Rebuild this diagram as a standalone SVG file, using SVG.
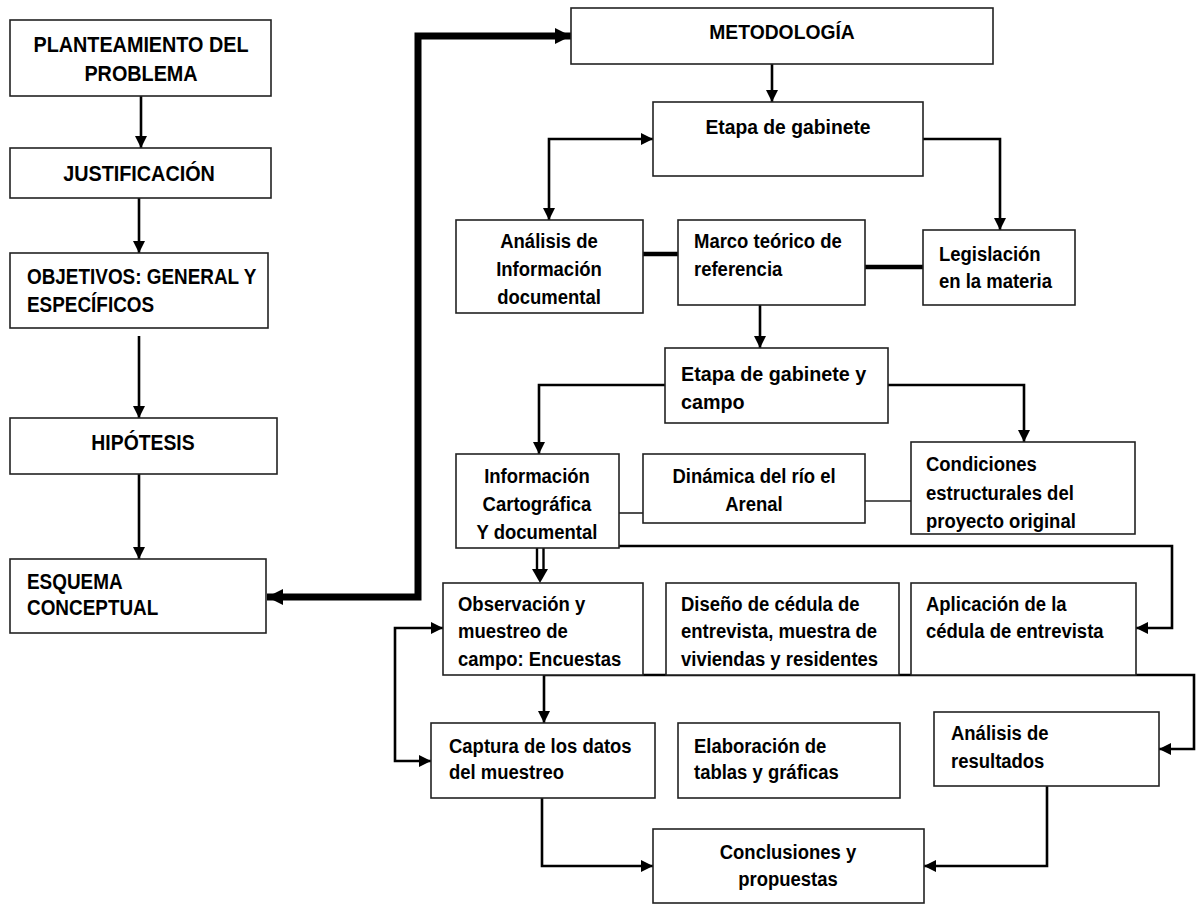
<svg xmlns="http://www.w3.org/2000/svg" width="1196" height="905" viewBox="0 0 1196 905">
<style>
  .box { fill: #ffffff; stroke: #222222; stroke-width: 1.6; }
  .t { font-family: "Liberation Sans", Arial, sans-serif; font-weight: bold; font-size: 21px; fill: #000000; }
  .tc { text-anchor: middle; }
  .cap { font-size: 22px; }
  .ln { fill: none; stroke: #000000; stroke-width: 2.6; }
  .thick { fill: none; stroke: #000000; stroke-width: 7; }
  .med { fill: none; stroke: #000000; stroke-width: 4.5; }
  .thin { fill: none; stroke: #222222; stroke-width: 1.6; }
  .dbl { fill: none; stroke: #000000; stroke-width: 2.4; }
</style>
<defs>
  <marker id="ah" viewBox="0 0 12 12" refX="12" refY="6" markerWidth="12" markerHeight="12" markerUnits="userSpaceOnUse" orient="auto-start-reverse">
    <path d="M0,0 L12,6 L0,12 z" fill="#000000"/>
  </marker>
  <marker id="ahb" viewBox="0 0 16 16" refX="16" refY="8" markerWidth="16" markerHeight="16" markerUnits="userSpaceOnUse" orient="auto-start-reverse">
    <path d="M0,0 L16,8 L0,16 z" fill="#000000"/>
  </marker>
</defs>
<rect x="0" y="0" width="1196" height="905" fill="#ffffff"/>

<g id="connectors">
  <line class="ln" x1="141" y1="96" x2="141" y2="148" marker-end="url(#ah)"/>
  <line class="ln" x1="139" y1="198" x2="139" y2="253" marker-end="url(#ah)"/>
  <line class="ln" x1="139" y1="336" x2="139" y2="418" marker-end="url(#ah)"/>
  <line class="ln" x1="139" y1="474" x2="139" y2="559" marker-end="url(#ah)"/>
  <polyline class="thick" points="267,597 418,597 418,36 571,36" marker-start="url(#ahb)" marker-end="url(#ahb)"/>
  <line class="ln" x1="772" y1="53" x2="772" y2="102" marker-end="url(#ah)"/>
  <polyline class="ln" points="653,139 549,139 549,220" marker-start="url(#ah)" marker-end="url(#ah)"/>
  <polyline class="ln" points="923,139 1000,139 1000,230" marker-end="url(#ah)"/>
  <line class="med" x1="643" y1="254" x2="678" y2="254"/>
  <line class="med" x1="865" y1="267" x2="923" y2="267"/>
  <line class="ln" x1="760" y1="300" x2="760" y2="348" marker-end="url(#ah)"/>
  <polyline class="ln" points="665,385 539,385 539,454" marker-end="url(#ah)"/>
  <polyline class="ln" points="888,385 1024,385 1024,442" marker-end="url(#ah)"/>
  <line class="thin" x1="619" y1="513" x2="643" y2="513"/>
  <line class="thin" x1="865" y1="501" x2="911" y2="501"/>
  <line class="dbl" x1="537" y1="548" x2="537" y2="572"/>
  <line class="dbl" x1="543.5" y1="546" x2="543.5" y2="572"/>
  <path d="M532,569 L548,569 L540,583 z" fill="#000000"/>
  <polyline class="ln" points="543,546 1172,546 1172,628 1136,628" marker-end="url(#ah)"/>
  <polyline class="ln" points="443,628 395,628 395,761 431,761" marker-start="url(#ah)" marker-end="url(#ah)"/>
  <polyline class="ln" points="544,723 544,675 1194,675 1194,749 1159,749" marker-start="url(#ah)" marker-end="url(#ah)"/>
  <polyline class="ln" points="542,798 542,866 653,866" marker-end="url(#ah)"/>
  <polyline class="ln" points="1047,786 1047,866 924,866" marker-end="url(#ah)"/>
</g>

<g id="n-planteamiento">
  <rect class="box" x="10" y="20" width="261" height="76"/>
  <text class="t cap tc" transform="translate(141,52) scale(0.9,1)">PLANTEAMIENTO DEL</text>
  <text class="t cap tc" transform="translate(141,81) scale(0.9,1)">PROBLEMA</text>
</g>
<g id="n-justificacion">
  <rect class="box" x="10" y="148" width="261" height="50"/>
  <text class="t cap tc" transform="translate(139,181) scale(0.9,1)">JUSTIFICACIÓN</text>
</g>
<g id="n-objetivos">
  <rect class="box" x="10" y="253" width="258" height="75"/>
  <text class="t cap" transform="translate(27,284) scale(0.86,1)">OBJETIVOS: GENERAL Y</text>
  <text class="t cap" transform="translate(27,312) scale(0.86,1)">ESPECÍFICOS</text>
</g>
<g id="n-hipotesis">
  <rect class="box" x="10" y="418" width="267" height="56"/>
  <text class="t cap tc" transform="translate(143,450) scale(0.88,1)">HIPÓTESIS</text>
</g>
<g id="n-esquema">
  <rect class="box" x="10" y="559" width="256" height="74"/>
  <text class="t cap" transform="translate(27,589) scale(0.86,1)">ESQUEMA</text>
  <text class="t cap" transform="translate(27,615) scale(0.86,1)">CONCEPTUAL</text>
</g>

<g id="n-metodologia">
  <rect class="box" x="571" y="8" width="422" height="56"/>
  <text class="t tc" transform="translate(782,39) scale(0.92,1)">METODOLOGÍA</text>
</g>
<g id="n-etapa-gabinete">
  <rect class="box" x="653" y="102" width="270" height="74"/>
  <text class="t tc" transform="translate(788,134) scale(0.92,1)">Etapa de gabinete</text>
</g>
<g id="n-analisis-info">
  <rect class="box" x="456" y="220" width="187" height="93"/>
  <text class="t tc" transform="translate(549,248) scale(0.88,1)">Análisis de</text>
  <text class="t tc" transform="translate(549,276) scale(0.88,1)">Información</text>
  <text class="t tc" transform="translate(549,304) scale(0.88,1)">documental</text>
</g>
<g id="n-marco">
  <rect class="box" x="678" y="220" width="187" height="85"/>
  <text class="t" transform="translate(694,248) scale(0.88,1)">Marco teórico de</text>
  <text class="t" transform="translate(694,276) scale(0.88,1)">referencia</text>
</g>
<g id="n-legislacion">
  <rect class="box" x="923" y="230" width="152" height="75"/>
  <text class="t" transform="translate(939,261) scale(0.88,1)">Legislación</text>
  <text class="t" transform="translate(939,288) scale(0.88,1)">en la materia</text>
</g>
<g id="n-etapa-campo">
  <rect class="box" x="665" y="348" width="223" height="75"/>
  <text class="t" transform="translate(681,381) scale(0.94,1)">Etapa de gabinete y</text>
  <text class="t" transform="translate(681,409) scale(0.94,1)">campo</text>
</g>
<g id="n-informacion">
  <rect class="box" x="456" y="454" width="163" height="94"/>
  <text class="t tc" transform="translate(537,483) scale(0.88,1)">Información</text>
  <text class="t tc" transform="translate(537,511) scale(0.88,1)">Cartográfica</text>
  <text class="t tc" transform="translate(537,539) scale(0.88,1)">Y documental</text>
</g>
<g id="n-dinamica">
  <rect class="box" x="643" y="454" width="222" height="69"/>
  <text class="t tc" transform="translate(754,483) scale(0.88,1)">Dinámica del río el</text>
  <text class="t tc" transform="translate(754,511) scale(0.88,1)">Arenal</text>
</g>
<g id="n-condiciones">
  <rect class="box" x="911" y="442" width="224" height="92"/>
  <text class="t" transform="translate(926,471) scale(0.88,1)">Condiciones</text>
  <text class="t" transform="translate(926,500) scale(0.88,1)">estructurales del</text>
  <text class="t" transform="translate(926,528) scale(0.88,1)">proyecto original</text>
</g>
<g id="n-observacion">
  <rect class="box" x="443" y="583" width="200" height="92"/>
  <text class="t" transform="translate(458,611) scale(0.88,1)">Observación  y</text>
  <text class="t" transform="translate(458,638) scale(0.88,1)">muestreo de</text>
  <text class="t" transform="translate(458,666) scale(0.88,1)">campo: Encuestas</text>
</g>
<g id="n-diseno">
  <rect class="box" x="666" y="583" width="233" height="92"/>
  <text class="t" transform="translate(681,611) scale(0.88,1)">Diseño de cédula de</text>
  <text class="t" transform="translate(681,638) scale(0.88,1)">entrevista, muestra de</text>
  <text class="t" transform="translate(681,666) scale(0.88,1)">viviendas y residentes</text>
</g>
<g id="n-aplicacion">
  <rect class="box" x="911" y="583" width="225" height="92"/>
  <text class="t" transform="translate(926,611) scale(0.88,1)">Aplicación de la</text>
  <text class="t" transform="translate(926,638) scale(0.88,1)">cédula de entrevista</text>
</g>
<g id="n-captura">
  <rect class="box" x="431" y="723" width="224" height="75"/>
  <text class="t" transform="translate(449,753) scale(0.88,1)">Captura de los datos</text>
  <text class="t" transform="translate(449,779) scale(0.88,1)">del muestreo</text>
</g>
<g id="n-elaboracion">
  <rect class="box" x="678" y="723" width="222" height="75"/>
  <text class="t" transform="translate(694,753) scale(0.88,1)">Elaboración de</text>
  <text class="t" transform="translate(694,779) scale(0.88,1)">tablas y gráficas</text>
</g>
<g id="n-analisis-resultados">
  <rect class="box" x="934" y="712" width="225" height="74"/>
  <text class="t" transform="translate(951,740) scale(0.88,1)">Análisis de</text>
  <text class="t" transform="translate(951,768) scale(0.88,1)">resultados</text>
</g>
<g id="n-conclusiones">
  <rect class="box" x="653" y="829" width="271" height="74"/>
  <text class="t tc" transform="translate(788,859) scale(0.88,1)">Conclusiones y</text>
  <text class="t tc" transform="translate(788,886) scale(0.88,1)">propuestas</text>
</g>
</svg>
